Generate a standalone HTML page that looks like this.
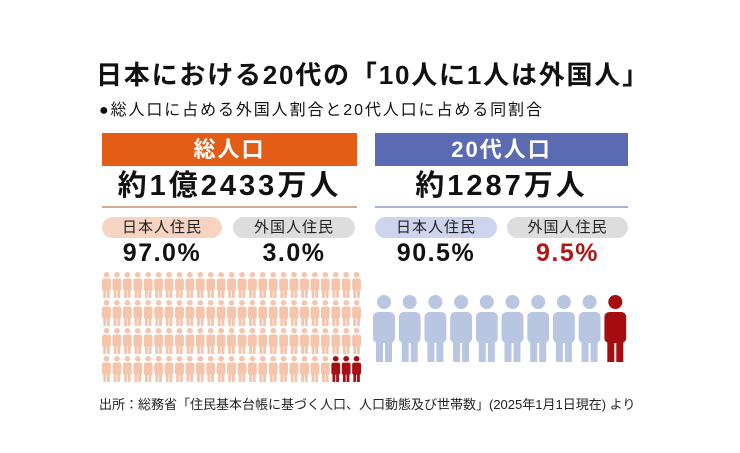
<!DOCTYPE html>
<html><head><meta charset="utf-8"><style>
body{margin:0;width:740px;height:453px;background:#fff;position:relative;overflow:hidden;font-family:"Liberation Sans","Noto Sans CJK JP",sans-serif;color:#111}
.a{position:absolute;white-space:nowrap}
.bar{position:absolute;top:133px;height:33px;color:#fff;font-weight:bold;font-size:22px;text-align:center;line-height:33px;letter-spacing:2px}
.big{position:absolute;top:168px;font-weight:bold;font-size:29px;text-align:center;line-height:36px;letter-spacing:3px}
.pill{position:absolute;top:217px;height:21px;border-radius:11px;font-size:15px;text-align:center;line-height:21px;color:#222;letter-spacing:1px}
.pct{position:absolute;top:239px;font-weight:bold;font-size:25px;text-align:center;line-height:28px;letter-spacing:1.5px}
</style></head><body>
<div class="a" style="left:96px;top:58px;font-size:26px;font-weight:bold;line-height:34px;letter-spacing:1.8px">日本における20代の「10人に1人は外国人」</div>
<div class="a" style="left:99px;top:101px;font-size:16px;line-height:20px;letter-spacing:1.9px">●総人口に占める外国人割合と20代人口に占める同割合</div>
<div class="bar" style="left:102px;width:255px;background:#e35d16">総人口</div>
<div class="bar" style="left:375px;width:253px;background:#5b6bb3">20代人口</div>
<div class="big" style="left:102px;width:255px">約1億2433万人</div>
<div class="big" style="left:375px;width:253px">約1287万人</div>
<div class="a" style="left:102px;top:206px;width:255px;height:2px;background:#d4aa8c"></div>
<div class="a" style="left:375px;top:206px;width:253px;height:2px;background:#a8b2d6"></div>
<div class="pill" style="left:102px;width:120px;background:#f7d3c2">日本人住民</div>
<div class="pill" style="left:233px;width:122px;background:#deddde">外国人住民</div>
<div class="pill" style="left:375px;width:122px;background:#cdd4ee">日本人住民</div>
<div class="pill" style="left:507px;width:121px;background:#deddde">外国人住民</div>
<div class="pct" style="left:102px;width:120px">97.0%</div>
<div class="pct" style="left:233px;width:122px">3.0%</div>
<div class="pct" style="left:375px;width:122px">90.5%</div>
<div class="pct" style="left:507px;width:121px;color:#b01818">9.5%</div>
<svg class="a" style="left:0;top:0" width="740" height="453">
<defs><symbol id="p" viewBox="0 0 22 67" preserveAspectRatio="none">
<circle cx="11" cy="7" r="7"/><rect x="0" y="17" width="22" height="31" rx="5"/><rect x="3" y="40" width="7" height="27"/><rect x="12" y="40" width="7" height="27"/></symbol></defs>
<g id="L"></g><g id="R"></g>
</svg>
<script>
var ns="http://www.w3.org/2000/svg",L=document.getElementById("L"),R=document.getElementById("R");
function u(g,x,y,w,h,c){var e=document.createElementNS(ns,"use");e.setAttribute("href","#p");e.setAttribute("x",x);e.setAttribute("y",y);e.setAttribute("width",w);e.setAttribute("height",h);e.setAttribute("fill",c);g.appendChild(e);}
for(var r=0;r<4;r++)for(var i=0;i<25;i++){u(L,102+i*10.42,272+r*28,9,26,(r==3&&i>=22)?"#a80f12":"#f5c4aa");}
for(var i=0;i<10;i++){u(R,373+i*25.7,295,22,67,i==9?"#a50c0f":"#b9c6e2");}
</script>
<div class="a" style="left:99px;top:396px;font-size:13px;line-height:18px;color:#222">出所：総務省「住民基本台帳に基づく人口、人口動態及び世帯数」(2025年1月1日現在) より</div>
</body></html>
